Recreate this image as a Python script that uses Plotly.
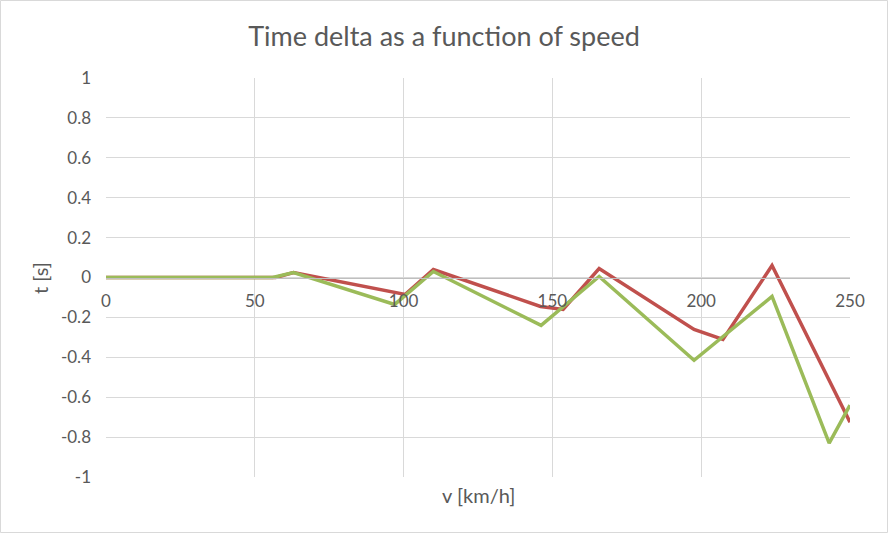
import plotly.graph_objects as go

red_v = [0, 57, 63, 97, 100.5, 110, 146, 153.6, 165.7, 197.6, 207.3, 223.8, 250]
red_t = [0, 0, 0.025, -0.075, -0.085, 0.04, -0.145, -0.16, 0.045, -0.26, -0.31, 0.06, -0.725]

green_v = [0, 56, 63, 97, 110, 146.2, 165.7, 197.6, 223.8, 243, 250]
green_t = [0, 0, 0.025, -0.135, 0.03, -0.24, 0.005, -0.415, -0.095, -0.83, -0.64]

x_ticks = [0, 50, 100, 150, 200, 250]
y_ticks = [1, 0.8, 0.6, 0.4, 0.2, 0, -0.2, -0.4, -0.6, -0.8, -1]
y_labels = ["1", "0.8", "0.6", "0.4", "0.2", "0", "-0.2", "-0.4", "-0.6", "-0.8", "-1"]

FONT = "Lato, Open Sans, sans-serif"
TXT = "#595959"
GRID = "#D9D9D9"

fig = go.Figure()
fig.add_trace(go.Scatter(x=red_v, y=red_t, mode="lines",
                         line=dict(color="#C0504D", width=3.5), showlegend=False))
fig.add_trace(go.Scatter(x=green_v, y=green_t, mode="lines",
                         line=dict(color="#9BBB59", width=3.5), showlegend=False))

L, R, T, B = 106, 38, 78, 56
W, H = 888, 533
pw, ph = W - L - R, H - T - B

fig.update_layout(
    width=W, height=H,
    margin=dict(l=L, r=R, t=T, b=B),
    paper_bgcolor="white", plot_bgcolor="white",
    title=dict(text="Time delta as a function of speed", x=0.5, xanchor="center",
               y=1 - 37 / H, yanchor="middle",
               font=dict(family=FONT, size=27, color=TXT)),
    xaxis=dict(range=[0, 250], tickvals=x_ticks, showgrid=True, gridcolor=GRID,
               gridwidth=1, zeroline=False, showline=True, linecolor="#BFBFBF",
               linewidth=1, anchor="free", position=0.5, ticks="",
               ticklabelstandoff=8,
               tickfont=dict(family=FONT, size=17, color=TXT)),
    yaxis=dict(range=[-1, 1], tickvals=y_ticks, ticktext=y_labels, showgrid=True,
               gridcolor=GRID, gridwidth=1, zeroline=False, ticks="",
               ticklabelstandoff=14,
               tickfont=dict(family=FONT, size=17, color=TXT)),
    shapes=[dict(type="rect", xref="paper", yref="paper",
                 x0=-(L - 0.5) / pw, x1=(W - L - 0.5) / pw,
                 y0=-(B - 0.5) / ph, y1=(H - B - 0.5) / ph,
                 line=dict(color="#D9D9D9", width=1), layer="below")],
    annotations=[
        dict(text="v [km/h]", xref="paper", yref="paper", x=0.5,
             y=-(495 - (T + ph)) / ph, xanchor="center", yanchor="middle",
             showarrow=False, font=dict(family=FONT, size=20, color=TXT)),
        dict(text="t [s]", xref="paper", yref="paper", x=-(L - 40) / pw,
             y=(T + ph - 278) / ph, xanchor="center", yanchor="middle",
             textangle=-90, showarrow=False,
             font=dict(family=FONT, size=20, color=TXT)),
    ],
)

fig.write_html("out.html", config={"displayModeBar": False},
               post_script="document.body.style.margin='0';document.body.style.overflow='hidden';")
